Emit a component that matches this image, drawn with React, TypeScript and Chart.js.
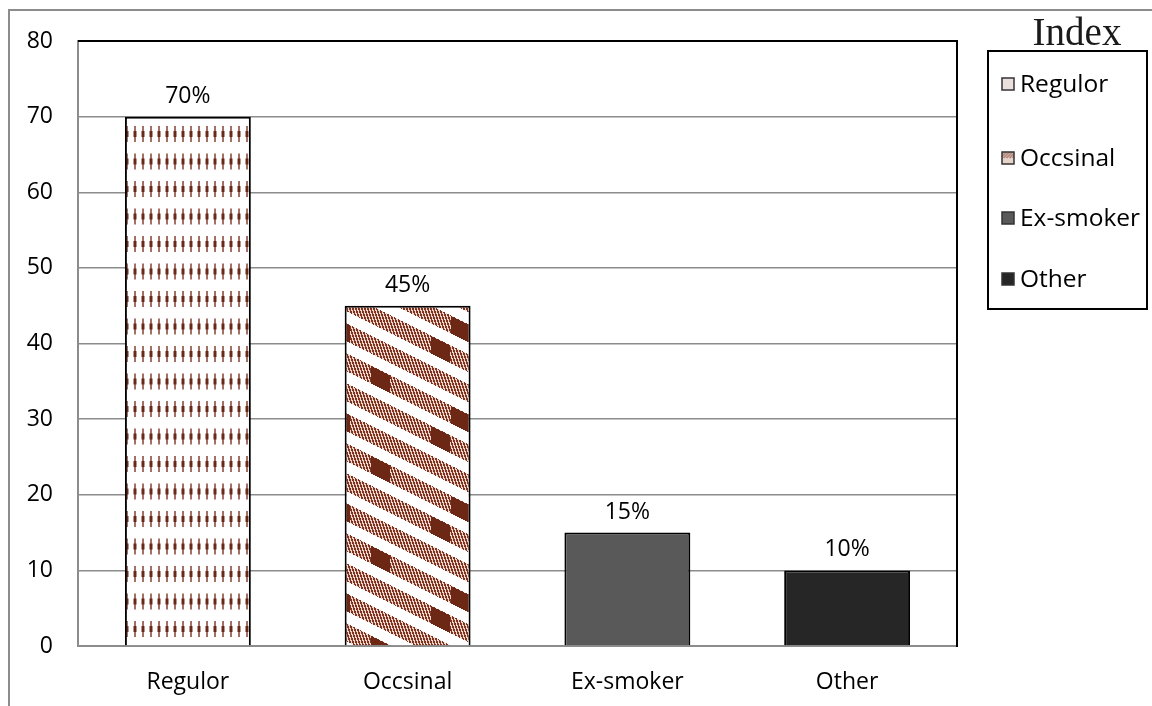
import React, { useEffect, useRef } from "react";
import { Chart, registerables } from "chart.js";

Chart.register(...registerables);

// Smoking status shares (%)
const categories = ["Regulor", "Occsinal", "Ex-smoker", "Other"];
const shares = [70, 45, 15, 10];
const yTickValues = [0, 10, 20, 30, 40, 50, 60, 70, 80];
const legendTitle = "Index";

const FONT = "'Open Sans', 'DejaVu Sans', sans-serif";

// Vertical brown tick marks on white, in rows
function makeTickPattern(ctx: CanvasRenderingContext2D): CanvasPattern | string {
  const c = document.createElement("canvas");
  c.width = 8;
  c.height = 55;
  const g = c.getContext("2d");
  if (!g) return "#fff";
  g.fillStyle = "#ffffff";
  g.fillRect(0, 0, 8, 55);
  const rows = [24, 51.5];
  for (const cy of rows) {
    for (const dy of [-55, 0, 55]) {
      for (const dx of [-8, 0, 8]) {
        const y = cy + dy;
        const x = 7 + dx;
        g.fillStyle = "#a27064";
        g.fillRect(x - 1, y - 8, 2, 16);
        g.fillStyle = "#6a2818";
        g.fillRect(x - 1.5, y - 3, 3, 6);
      }
    }
  }
  return ctx.createPattern(c, "repeat") || "#fff";
}

// Diagonal hatched bands with occasional solid patches
function makeBandPattern(ctx: CanvasRenderingContext2D): CanvasPattern | string {
  const W = 120;
  const H = 90;
  const P = 30;
  const BAND = 18;
  const c = document.createElement("canvas");
  c.width = W;
  c.height = H;
  const g = c.getContext("2d");
  if (!g) return "#fff";
  const img = g.createImageData(W, H);
  const patches = [
    [20, 19],
    [100, 59],
    [80, 79],
  ];
  const wrap = (v: number, m: number) => {
    let r = v % m;
    if (r > m / 2) r -= m;
    if (r < -m / 2) r += m;
    return r;
  };
  for (let y = 0; y < H; y++) {
    for (let x = 0; x < W; x++) {
      const u = (((y - 0.5 * x) % P) + P) % P;
      let col = [255, 255, 255];
      if (u < BAND) {
        const v = (((3 * x - y) % 9) + 9) % 9;
        col = v < 5 ? [128, 52, 32] : [236, 214, 206];
        for (const [bx, by] of patches) {
          const dx = wrap(x - bx, W);
          const dy = wrap(y - by, H);
          if (Math.abs(dx) < 10 && Math.abs(dy - 0.5 * dx) < 9) {
            col = [108, 40, 20];
          }
        }
      }
      const i = (y * W + x) * 4;
      img.data[i] = col[0];
      img.data[i + 1] = col[1];
      img.data[i + 2] = col[2];
      img.data[i + 3] = 255;
    }
  }
  g.putImageData(img, 0, 0);
  return ctx.createPattern(c, "repeat") || "#fff";
}

const legendRows = [84, 158, 218, 279];

const decorPlugin = {
  id: "decor",
  beforeDraw(chart: any) {
    const { ctx, width, height } = chart;
    ctx.save();
    ctx.fillStyle = "#ffffff";
    ctx.fillRect(0, 0, width, height);
    ctx.strokeStyle = "#8c8c8c";
    ctx.lineWidth = 2;
    ctx.beginPath();
    ctx.moveTo(9, height);
    ctx.lineTo(9, 10);
    ctx.lineTo(width, 10);
    ctx.stroke();
    ctx.restore();
  },
  afterDatasetsDraw(chart: any) {
    const { ctx } = chart;
    const meta = chart.getDatasetMeta(0);
    ctx.save();
    ctx.font = `23px ${FONT}`;
    ctx.fillStyle = "#000";
    ctx.textAlign = "center";
    ctx.textBaseline = "alphabetic";
    meta.data.forEach((bar: any, i: number) => {
      ctx.fillText(`${shares[i]}%`, bar.x, bar.y - 14);
    });
    ctx.restore();
  },
  afterDraw(chart: any) {
    const { ctx, chartArea } = chart;
    ctx.save();
    // plot frame: top and right edges
    ctx.strokeStyle = "#000";
    ctx.lineWidth = 2;
    ctx.beginPath();
    ctx.moveTo(chartArea.left, chartArea.top);
    ctx.lineTo(chartArea.right, chartArea.top);
    ctx.lineTo(chartArea.right, chartArea.bottom + 1);
    ctx.stroke();

    // legend box
    const bx = 988;
    const by = 51;
    const bw = 159;
    const bh = 258;
    ctx.lineWidth = 2;
    ctx.strokeRect(bx, by, bw, bh);

    ctx.font = "39px 'Liberation Serif', 'DejaVu Serif', serif";
    ctx.fillStyle = "#1a1a1a";
    ctx.textAlign = "center";
    ctx.textBaseline = "alphabetic";
    ctx.fillText(legendTitle, 1077, 45);

    const swatchFill = ["#ebe0dd", "#e6d3cb", "#595959", "#262626"];
    ctx.font = `24.5px ${FONT}`;
    ctx.textAlign = "left";
    ctx.textBaseline = "middle";
    categories.forEach((name, i) => {
      const cy = legendRows[i];
      const sx = 1002;
      const sy = cy - 6;
      ctx.fillStyle = swatchFill[i];
      ctx.fillRect(sx, sy, 12, 12);
      if (i === 1) {
        ctx.save();
        ctx.beginPath();
        ctx.rect(sx, sy, 12, 12);
        ctx.clip();
        ctx.strokeStyle = "#a8786a";
        ctx.lineWidth = 1;
        for (let k = -12; k < 24; k += 3) {
          ctx.beginPath();
          ctx.moveTo(sx + k, sy);
          ctx.lineTo(sx + k + 12, sy + 6);
          ctx.stroke();
        }
        ctx.restore();
      }
      ctx.strokeStyle = "#333";
      ctx.lineWidth = 1.5;
      ctx.strokeRect(sx, sy, 12, 12);
      ctx.fillStyle = "#000";
      ctx.fillText(name, 1020, cy + 1);
    });
    ctx.restore();
  },
};

export default function App() {
  const ref = useRef<HTMLCanvasElement>(null);

  useEffect(() => {
    const canvas = ref.current;
    if (!canvas) return;
    const ctx = canvas.getContext("2d");
    if (!ctx) return;
    const fills = [makeTickPattern(ctx), makeBandPattern(ctx), "#595959", "#262626"];

    const chart = new Chart(ctx, {
      type: "bar",
      data: {
        labels: categories,
        datasets: [
          {
            data: shares,
            backgroundColor: fills as any,
            borderColor: "#000",
            borderWidth: 2,
            categoryPercentage: 1,
            barPercentage: 0.573,
          },
        ],
      },
      options: {
        responsive: false,
        animation: false,
        devicePixelRatio: 1,
        layout: { padding: { left: 0, top: 41, right: 195, bottom: 0 } },
        plugins: {
          legend: { display: false },
          tooltip: { enabled: false },
          title: { display: false },
        },
        scales: {
          x: {
            grid: { display: false, drawTicks: false },
            border: { color: "#8c8c8c", width: 2 },
            ticks: {
              color: "#000",
              font: { family: FONT, size: 23 },
              padding: 23,
            },
            afterFit(scale: any) {
              scale.height = 60;
            },
          },
          y: {
            min: 0,
            max: 80,
            afterBuildTicks(scale: any) {
              scale.ticks = yTickValues.map((v) => ({ value: v }));
            },
            grid: {
              drawTicks: false,
              color: (c: any) => (c.tick && c.tick.value === 80 ? "rgba(0,0,0,0)" : "#8c8c8c"),
              lineWidth: 1.5,
            },
            border: { color: "#8c8c8c", width: 2 },
            ticks: {
              color: "#000",
              font: { family: FONT, size: 23 },
              padding: 25,
            },
            afterFit(scale: any) {
              scale.width = 78;
            },
          },
        },
      },
      plugins: [decorPlugin],
    });
    return () => chart.destroy();
  }, []);

  return (
    <div style={{ position: "fixed", left: 0, top: 0, width: 1152, height: 706, background: "#fff" }}>
      <canvas ref={ref} width={1152} height={706} style={{ display: "block", width: 1152, height: 706 }} />
    </div>
  );
}
